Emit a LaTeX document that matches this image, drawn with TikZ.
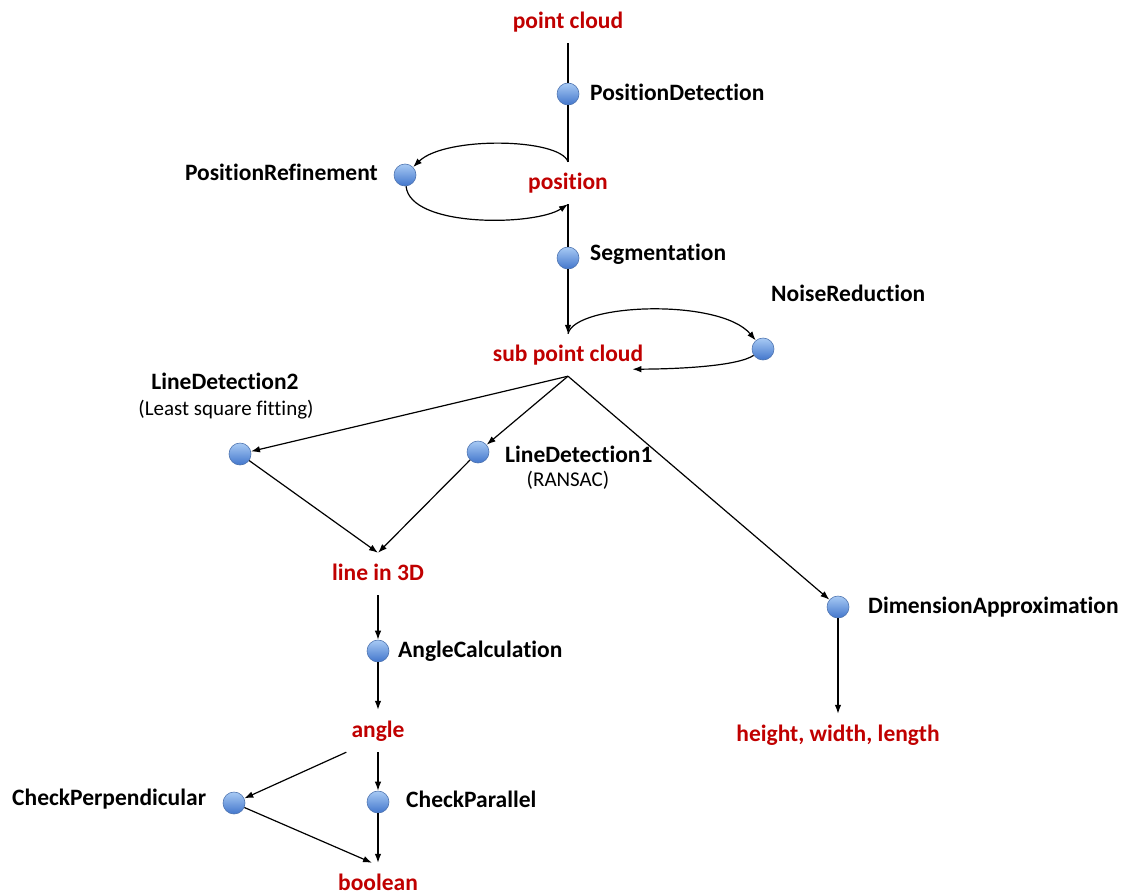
\documentclass[tikz,border=0pt]{standalone}
\usepackage{fontspec}
\setmainfont{Carlito}[Ligatures={NoCommon}]
\usetikzlibrary{arrows.meta,calc}
\definecolor{lblred}{RGB}{192,0,0}
\definecolor{balltop}{RGB}{168,202,244}
\definecolor{ballbot}{RGB}{66,118,204}
\definecolor{ballrim}{RGB}{78,116,176}
\begin{document}
\begin{tikzpicture}[x=1pt,y=-1pt,
  data/.style={font=\fontsize{23.5}{28}\selectfont\bfseries, text=lblred, inner xsep=0pt, inner ysep=10pt, text height=17pt, text depth=5pt, anchor=base},
  op/.style={circle, minimum size=22pt, inner sep=0pt, draw=ballrim, line width=0.6pt, top color=balltop, bottom color=ballbot},
  oplabel/.style={font=\fontsize{23.5}{28}\selectfont\bfseries, inner sep=0pt, text height=17pt, text depth=5pt},
  note/.style={font=\fontsize{21}{25}\selectfont, inner sep=0pt, text height=15pt, text depth=5pt},
  link/.style={line width=1.2pt, black},
  arr/.style={link, -{Latex[length=9pt,width=6.5pt]}}
]
\useasboundingbox (0,0) rectangle (1123,894);

% data nodes
\node[data] (pc) at (568,28) {point cloud};
\node[data] (pos) at (568,189) {position};
\node[data] (spc) at (568,361) {sub point cloud};
\node[data] (l3d) at (378,580) {line in 3D};
\node[data] (ang) at (378,737) {angle};
\node[data] (bool) at (378,890) {boolean};
\node[data] (hwl) at (838,741) {height, width, length};

% operation balls
\node[op] (pd) at (568,94) {};
\node[op] (pr) at (405,175) {};
\node[op] (seg) at (568,258) {};
\node[op] (nr) at (763,349) {};
\node[op] (ld2) at (240,454) {};
\node[op] (ld1) at (478,452) {};
\node[op] (ac) at (378,651) {};
\node[op] (cperp) at (234,803) {};
\node[op] (cpar) at (378,802) {};
\node[op] (da) at (838,607) {};

% operation labels
\node[oplabel, anchor=west] (pdl) at (590,94) {PositionDetection};
\node[oplabel, anchor=east] (prl) at (378,174) {PositionRefinement};
\node[oplabel, anchor=west] (segl) at (590,254) {Segmentation};
\node[oplabel, anchor=west] (nrl) at (771,295) {NoiseReduction};
\node[oplabel] (ld2l) at (225,383) {LineDetection2};
\node[note] (ld2n) at (226,410) {(Least square fitting)};
\node[oplabel, anchor=west] (ld1l) at (505,456) {LineDetection1};
\node[note] (ld1n) at (568,481) {(RANSAC)};
\node[oplabel, anchor=west] (acl) at (398,651) {AngleCalculation};
\node[oplabel, anchor=west] (cperpl) at (12,799) {CheckPerpendicular};
\node[oplabel, anchor=west] (cparl) at (406,801) {CheckParallel};
\node[oplabel, anchor=west] (dal) at (868,607) {DimensionApproximation};

% connectors
\draw[link] (pc.south) -- (pd);
\draw[link] (pd) -- (pos.north);
\draw[arr] (pos.north) .. controls (560,138) and (445,136) .. (pr);
\draw[arr] (pr) .. controls (410,228) and (535,226) .. (pos.south);
\draw[link] (seg) -- (pos.south);
\draw[arr] (seg) -- (spc.north);
\draw[arr] (spc.north) .. controls (575,303) and (720,298) .. (nr);
\draw[arr] (nr) .. controls (738,366) and (680,369) .. ($(spc.south east)+(-11,-7)$);
\draw[arr] (spc.south) -- (ld2);
\draw[arr] (spc.south) -- (ld1);
\draw[arr] (spc.south) -- (da);
\draw[arr] (ld2) -- (l3d.north);
\draw[arr] (ld1) -- (l3d.north);
\draw[arr] (l3d.south) -- (ac);
\draw[arr] (ac) -- (ang.north);
\draw[arr] ($(ang.south west)+(-5,0)$) -- (cperp);
\draw[arr] (ang.south) -- (cpar);
\draw[arr] (cperp) -- ($(bool.north)+(-6,0)$);
\draw[arr] (cpar) -- (bool.north);
\draw[arr] (da) -- (hwl.north);
\end{tikzpicture}
\end{document}
